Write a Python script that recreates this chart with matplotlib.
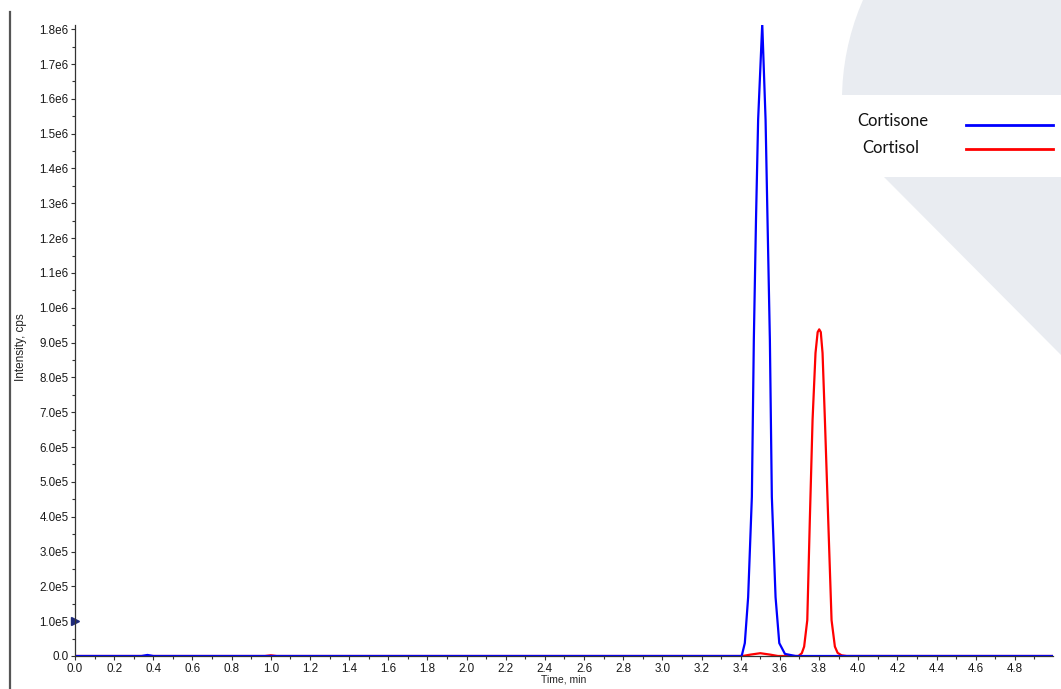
import matplotlib.pyplot as plt
from matplotlib.patches import Ellipse, Rectangle, Polygon
from matplotlib.lines import Line2D
from matplotlib.ticker import MultipleLocator, FuncFormatter

# chromatogram traces (time in min, intensity in cps)
cortisone_time = [0.00, 0.34, 0.37, 0.40, 3.40, 3.405, 3.421, 3.438, 3.457, 3.467, 3.478,
                  3.489, 3.510, 3.527, 3.537, 3.549, 3.559, 3.578, 3.597, 3.626, 3.68, 4.99]
cortisone_int = [0, 0, 3e3, 0, 0, 0, 3.7e4, 1.69e5, 4.57e5, 9.07e5, 1.25e6,
                 1.54e6, 1.815e6, 1.54e6, 1.25e6, 9.07e5, 4.57e5, 1.69e5, 3.7e4, 6e3, 0, 0]

cortisol_time = [0.00, 0.97, 1.00, 1.03, 3.41, 3.45, 3.50, 3.55, 3.59, 3.695, 3.712, 3.724,
                 3.740, 3.753, 3.767, 3.782, 3.793, 3.801, 3.809, 3.818, 3.830, 3.847,
                 3.864, 3.881, 3.895, 3.915, 3.941, 4.99]
cortisol_int = [0, 0, 2e3, 0, 0, 4e3, 8e3, 4e3, 0, 0, 8e3, 2.7e4, 1.03e5,
                3.9e5, 6.78e5, 8.7e5, 9.3e5, 9.38e5, 9.3e5, 8.7e5, 6.78e5, 3.9e5,
                1.03e5, 2.7e4, 9e3, 2e3, 0, 0]

series_names = ["Cortisone", "Cortisol"]
series_colors = ["#0000ff", "#ff0000"]

W, H = 1061, 689


def fx(px):
    return px / W


def fy(py):
    return 1 - py / H


fig = plt.figure(figsize=(W / 100, H / 100), dpi=100)
fig.patch.set_facecolor("white")

# decorative background shape, top right
bg = "#e9ecf1"
clip = Rectangle((fx(0), fy(95)), 1, 1, transform=fig.transFigure, visible=False)
fig.add_artist(clip)
circ = Ellipse((fx(1091), fy(100)), 2 * 249 / W, 2 * 249 / H, transform=fig.transFigure,
               facecolor=bg, edgecolor="none", zorder=-5)
circ.set_clip_path(clip)
fig.add_artist(circ)
tri = Polygon([(fx(884), fy(177)), (fx(1061), fy(177)), (fx(1061), fy(355))], closed=True,
              transform=fig.transFigure, facecolor=bg, edgecolor="none", zorder=-5)
fig.add_artist(tri)

# left border line
fig.add_artist(Line2D([fx(10), fx(10)], [fy(12), 0], transform=fig.transFigure,
                      color="#555555", lw=1.6))

ax = fig.add_axes([fx(75), fy(656), fx(1053) - fx(75), fy(25) - fy(656)])
ax.patch.set_visible(False)

ax.plot(cortisol_time, cortisol_int, color=series_colors[1], lw=1.6)
ax.plot(cortisone_time, cortisone_int, color=series_colors[0], lw=1.6)

ax.set_xlim(0, 4.995)
ax.set_ylim(0, 1.812e6)

ax.xaxis.set_major_locator(MultipleLocator(0.2))
ax.xaxis.set_minor_locator(MultipleLocator(0.1))
ax.yaxis.set_major_locator(MultipleLocator(1e5))
ax.yaxis.set_minor_locator(MultipleLocator(5e4))
ax.set_xticks([i * 0.2 for i in range(25)])
ax.xaxis.set_major_formatter(FuncFormatter(lambda v, p: f"{v:.1f}"))


def yfmt(v, p):
    if v == 0:
        return "0.0"
    if v < 1e6:
        return f"{v / 1e5:.1f}e5"
    return f"{v / 1e6:.1f}e6"


ax.yaxis.set_major_formatter(FuncFormatter(yfmt))

for s in ["top", "right"]:
    ax.spines[s].set_visible(False)
for s in ["left", "bottom"]:
    ax.spines[s].set_color("#333333")
    ax.spines[s].set_linewidth(0.9)

ax.tick_params(which="major", direction="out", length=3.2, width=0.8, color="#333333",
               labelsize=8.4, labelcolor="#1a1a1a", pad=1.5)
ax.tick_params(which="minor", direction="out", length=2, width=0.8, color="#333333")
for lab in ax.get_xticklabels() + ax.get_yticklabels():
    lab.set_family("Liberation Sans")

ax.set_xlabel("Time, min", fontsize=7.5, family="Liberation Sans", labelpad=0, color="#222222")
ax.set_ylabel("Intensity, cps", fontsize=8.5, family="Liberation Sans", color="#222222",
              va="center")
ax.yaxis.set_label_coords((21 - 75) / (1053 - 75), 0.49)

# small marker on the y axis
ax.plot([0], [1.0e5], marker=">", color="#1f2a7a", markersize=6, clip_on=False)

# legend drawn like the reference: names left, line samples right
fig.text(fx(857), fy(121), series_names[0], fontsize=12, family="Lato", color="#111111",
         va="center", ha="left")
fig.text(fx(862), fy(148), series_names[1], fontsize=12, family="Lato", color="#111111",
         va="center", ha="left")
fig.add_artist(Line2D([fx(966), fx(1053)], [fy(125), fy(125)], transform=fig.transFigure,
                      color=series_colors[0], lw=2))
fig.add_artist(Line2D([fx(966), fx(1053)], [fy(149), fy(149)], transform=fig.transFigure,
                      color=series_colors[1], lw=2))

fig.savefig("out.png", dpi=100)
